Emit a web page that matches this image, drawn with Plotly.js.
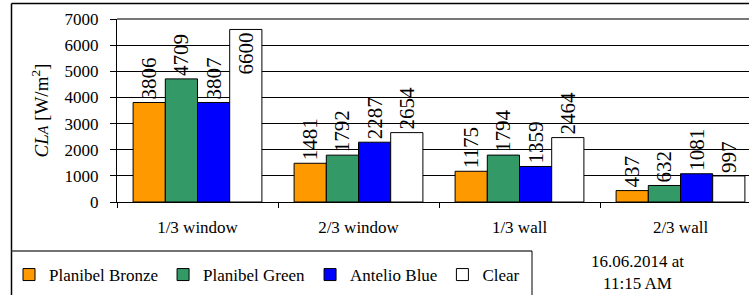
<!DOCTYPE html>
<html>
<head>
<meta charset="utf-8">
<script src="https://cdn.plot.ly/plotly-3.0.1.min.js"></script>
<style>
html,body{margin:0;padding:0;overflow:hidden;background:#fff;width:749px;height:295px;}
#chart{position:absolute;left:0;top:0;}
</style>
</head>
<body>
<div id="chart"></div>
<script>
const categories = ["1/3 window", "2/3 window", "1/3 wall", "2/3 wall"];
const seriesNames = ["Planibel Bronze", "Planibel Green", "Antelio Blue", "Clear"];
const bronze = [3806, 1481, 1175, 437];
const green  = [4709, 1792, 1794, 632];
const blue   = [3807, 2287, 1359, 1081];
const clear  = [6600, 2654, 2464, 997];
const yTicks = [0, 1000, 2000, 3000, 4000, 5000, 6000, 7000];
const colors = ["#FF9900", "#339966", "#0000FF", "#FFFFFF"];
const dateNote = "16.06.2014 at<br>11:15 AM";

const FONT = "Liberation Serif";
const allSeries = [bronze, green, blue, clear];

// pixel helpers for layout (not data)
const W = 749, H = 295, ML = 117, MR = 0, MT = 19, MB = 93;
const PW = W - ML - MR, PH = H - MT - MB;
const CAT_PX = 161; // pixel width of one category band
const px = x => (x - ML) / PW;
const py = y => (H - MB - y) / PH;

const traces = allSeries.map((vals, i) => {
  const ymax = yTicks[yTicks.length - 1];
  const pos = vals.map(v => (v > ymax * 0.86 ? "inside" : "outside"));
  return {
    type: "bar",
    name: seriesNames[i],
    x: categories,
    y: vals,
    text: vals.map(String),
    textposition: pos,
    insidetextanchor: "end",
    textangle: -90,
    constraintext: "none",
    cliponaxis: false,
    textfont: {family: FONT, size: 21, color: "#000"},
    insidetextfont: {family: FONT, size: 21, color: "#000"},
    outsidetextfont: {family: FONT, size: 21, color: "#000"},
    marker: {color: colors[i], line: {color: "#000", width: 1}},
    hoverinfo: "skip"
  };
});

const layout = {
  width: W, height: H,
  margin: {l: ML, r: MR, t: MT, b: MB, pad: 0},
  paper_bgcolor: "#fff",
  plot_bgcolor: "#fff",
  barmode: "group",
  bargap: 0.2,
  bargroupgap: 0,
  font: {family: FONT, size: 17, color: "#000"},
  xaxis: {
    type: "category",
    categoryarray: categories,
    range: [-0.5, -0.5 + PW / CAT_PX],
    showline: true, linecolor: "#000", linewidth: 1,
    ticks: "outside", ticklen: 5, tickcolor: "#000",
    tickson: "boundaries",
    ticklabelstandoff: 10,
    tickfont: {family: FONT, size: 17, color: "#000"},
    showgrid: false,
    automargin: false
  },
  yaxis: {
    range: [0, 7000],
    tickvals: yTicks,
    ticktext: yTicks.map(String),
    showline: true, linecolor: "#000", linewidth: 1,
    ticks: "outside", ticklen: 6, tickcolor: "#000",
    ticklabelstandoff: 8,
    tickfont: {family: FONT, size: 17, color: "#000"},
    showgrid: true, gridcolor: "#000", gridwidth: 1,
    zeroline: false,
    automargin: false,
    title: {
      text: "<i>CL<span style='font-size:14px'>A</span></i> [W/m<sup>2</sup>]",
      font: {family: FONT, size: 19, color: "#000"},
      standoff: 10
    }
  },
  showlegend: true,
  legend: {
    orientation: "h",
    x: px(9), xanchor: "left",
    y: py(275), yanchor: "middle",
    font: {family: FONT, size: 17, color: "#000"},
    bgcolor: "rgba(0,0,0,0)",
    borderwidth: 0,
    traceorder: "normal",
    itemclick: false, itemdoubleclick: false
  },
  annotations: [{
    xref: "paper", yref: "paper",
    x: px(637), y: py(272),
    xanchor: "center", yanchor: "middle",
    text: dateNote, showarrow: false, align: "center",
    font: {family: FONT, size: 17, color: "#000"}
  }],
  shapes: [
    {type: "line", xref: "paper", yref: "paper", x0: 0, x1: 1, y0: 1, y1: 1, line: {color: "#777", width: 2}},
    {type: "line", xref: "paper", yref: "paper", x0: px(11.5), x1: px(11.5), y0: py(3.5), y1: py(300), line: {color: "#000", width: 1.5}},
    {type: "line", xref: "paper", yref: "paper", x0: px(11.5), x1: px(W), y0: py(3.5), y1: py(3.5), line: {color: "#000", width: 1.5}},
    {type: "line", xref: "paper", yref: "paper", x0: px(11.5), x1: px(532), y0: py(251), y1: py(251), line: {color: "#444", width: 1.5}},
    {type: "line", xref: "paper", yref: "paper", x0: px(532), x1: px(532), y0: py(251), y1: py(300), line: {color: "#000", width: 1}}
  ]
};

Plotly.newPlot("chart", traces, layout, {staticPlot: true, displayModeBar: false});
</script>
</body>
</html>
